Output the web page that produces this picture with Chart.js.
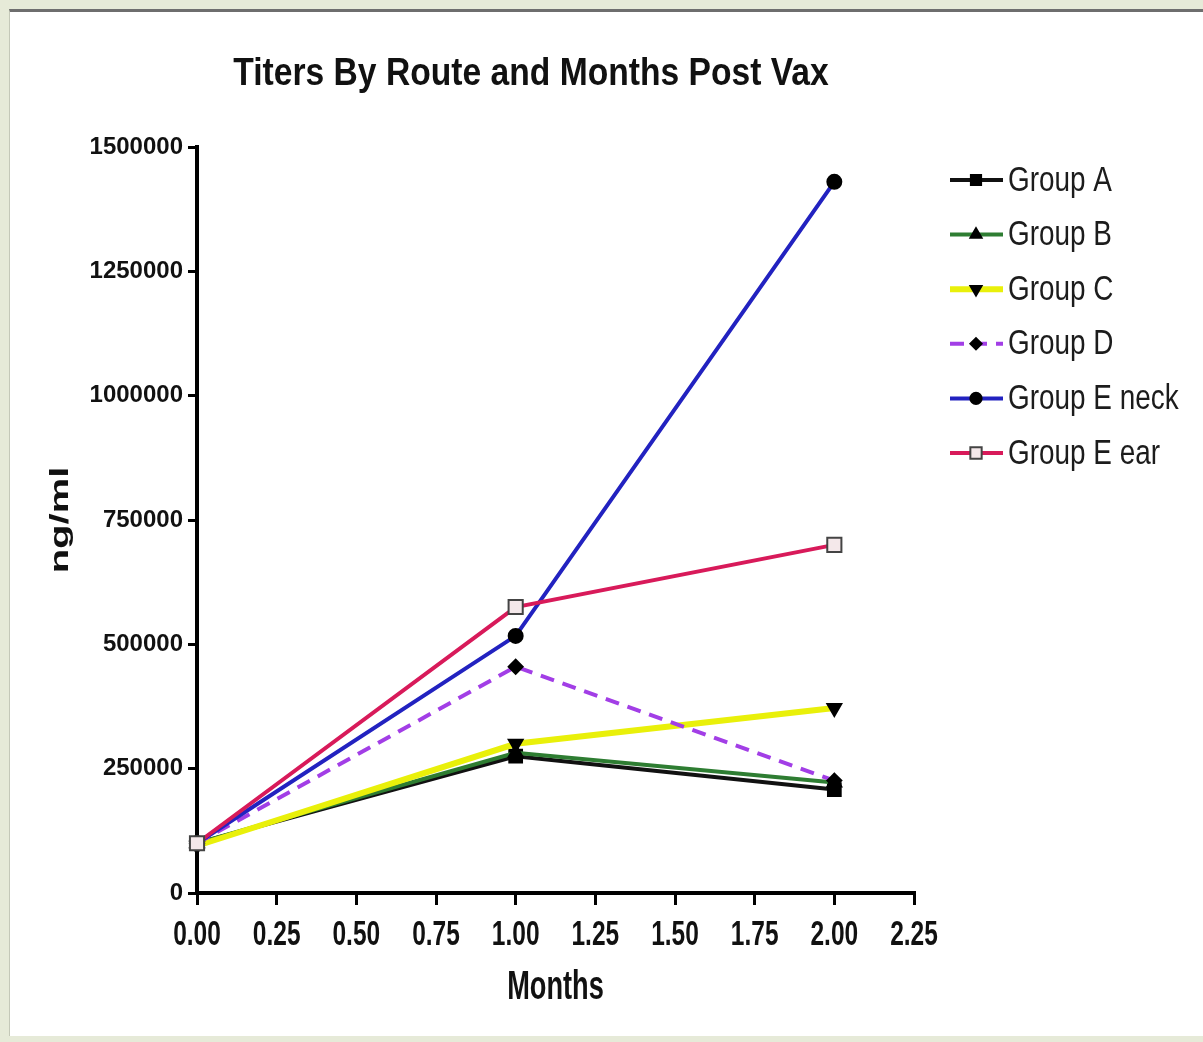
<!DOCTYPE html>
<html>
<head>
<meta charset="utf-8">
<script src="https://cdn.jsdelivr.net/npm/chart.js@4/dist/chart.umd.min.js"></script>
<style>
  html, body { margin: 0; padding: 0; }
  body { width: 1203px; height: 1042px; background: #e6ead8; position: relative; overflow: hidden; }
  #panel { position: absolute; left: 9px; top: 9px; right: 0; bottom: 6px; background: #fff;
           border-top: 3px solid #6e6e6e; border-left: 1px solid #c4c8b8; }
  #wrap { position: absolute; left: 0; top: 0; width: 1203px; height: 1042px; }
</style>
</head>
<body>
<div id="panel"></div>
<div id="wrap"><canvas id="chart"></canvas></div>
<script>
// values
const months = [0, 1, 2];
const groupA = [100000, 275000, 208000];
const groupB = [100000, 282000, 222000];
const groupC = [95000, 300000, 372000];
const groupD = [100000, 455000, 226000];
const groupENeck = [100000, 517000, 1430000];
const groupEEar = [100000, 575000, 700000];
const seriesNames = ['Group A', 'Group B', 'Group C', 'Group D', 'Group E neck', 'Group E ear'];
const yTicks = [0, 250000, 500000, 750000, 1000000, 1250000, 1500000];

const SANS = '"Liberation Sans", Arial, sans-serif';

function pts(values) {
  return values.map((v, i) => ({ x: months[i], y: v }));
}

const styles = [
  { color: '#111111', style: 'rect', rot: 0, fill: '#000', r: 9, w: 4 },
  { color: '#2e7d32', style: 'triangle', rot: 0, fill: '#000', r: 8, w: 4 },
  { color: '#e9f00a', style: 'triangle', rot: 180, fill: '#000', r: 8, w: 6 },
  { color: '#a23ee6', style: 'rectRot', rot: 0, fill: '#000', r: 7, w: 4, dash: [14, 9] },
  { color: '#2222c0', style: 'circle', rot: 0, fill: '#000', r: 7, w: 4 },
  { color: '#d81a5a', style: 'rect', rot: 0, fill: '#f4e8ea', r: 10, w: 4, pointBorder: '#444' }
];
const series = [groupA, groupB, groupC, groupD, groupENeck, groupEEar];

const datasets = series.map((vals, i) => {
  const s = styles[i];
  return {
    label: seriesNames[i],
    data: pts(vals),
    borderColor: s.color,
    borderWidth: s.w,
    borderDash: s.dash || [],
    pointStyle: s.style,
    pointRotation: s.rot,
    pointRadius: s.r,
    pointBackgroundColor: s.fill,
    pointBorderColor: s.pointBorder || '#000',
    pointBorderWidth: 2,
    tension: 0,
    fill: false,
    clip: false,
    order: series.length - 1 - i
  };
});

// condensed text the way the figure has it (no narrow font installed)
function squeezed(ctx, text, x, y, font, sx, sy, rot) {
  ctx.save();
  ctx.translate(x, y);
  if (rot) ctx.rotate(rot);
  ctx.scale(sx, sy);
  ctx.font = font;
  ctx.fillText(text, 0, 0);
  ctx.restore();
}

// title, axis texts and legend placed like the original figure
const extras = {
  id: 'extras',
  afterDraw(chart) {
    const ctx = chart.ctx;
    const xs = chart.scales.x;
    ctx.save();
    ctx.fillStyle = '#111';
    ctx.textAlign = 'center';
    ctx.textBaseline = 'middle';
    squeezed(ctx, 'Titers By Route and Months Post Vax', 531, 75, 'bold 38px ' + SANS, 0.885, 1);

    xs.ticks.forEach(t => {
      squeezed(ctx, Number(t.value).toFixed(2), xs.getPixelForValue(t.value), 935, 'bold 35px ' + SANS, 0.7, 1);
    });
    squeezed(ctx, 'Months', (xs.left + xs.right) / 2, 988, 'bold 40px ' + SANS, 0.68, 1);
    squeezed(ctx, 'ng/ml', 61, 520, 'bold 25px ' + SANS, 1.6, 1, -Math.PI / 2);

    ctx.textAlign = 'left';
    datasets.forEach((d, i) => {
      const y = 180 + i * 54.6;
      ctx.save();
      ctx.strokeStyle = d.borderColor;
      ctx.lineWidth = d.borderWidth;
      ctx.setLineDash(d.borderDash);
      ctx.beginPath();
      ctx.moveTo(950, y);
      ctx.lineTo(1003, y);
      ctx.stroke();
      ctx.restore();
      ctx.save();
      ctx.fillStyle = d.pointBackgroundColor;
      ctx.strokeStyle = d.pointBorderColor;
      ctx.lineWidth = 2;
      Chart.helpers.drawPoint(ctx, { pointStyle: d.pointStyle, rotation: d.pointRotation, radius: d.pointRadius * 0.8, borderWidth: 2 }, 976, y);
      ctx.restore();
      ctx.fillStyle = '#1c1c1c';
      squeezed(ctx, d.label, 1008, y + 1, '31px ' + SANS, 0.9, 1.12);
    });
    ctx.restore();
  }
};

new Chart(document.getElementById('chart'), {
  type: 'line',
  data: { datasets },
  options: {
    responsive: true,
    maintainAspectRatio: false,
    animation: false,
    layout: { padding: { top: 147, right: 289, left: 0, bottom: 0 } },
    plugins: {
      legend: { display: false },
      title: { display: false },
      tooltip: { enabled: false }
    },
    scales: {
      x: {
        type: 'linear',
        min: 0,
        max: 2.25,
        afterFit: s => { s.height = 149; },
        border: { color: '#000', width: 4 },
        grid: { drawOnChartArea: false, drawTicks: true, tickLength: 12, color: '#000', lineWidth: 3 },
        ticks: { stepSize: 0.25, display: false },
        title: { display: false, text: 'Months' }
      },
      y: {
        min: yTicks[0],
        max: yTicks[yTicks.length - 1],
        afterFit: s => { s.width = 197; },
        afterBuildTicks: s => { s.ticks = yTicks.map(v => ({ value: v })); },
        border: { color: '#000', width: 4 },
        grid: { drawOnChartArea: false, drawTicks: true, tickLength: 9, color: '#000', lineWidth: 3 },
        ticks: {
          color: '#111',
          padding: 5,
          font: { family: SANS, size: 24, weight: 'bold' },
          callback: v => String(v)
        },
        title: { display: false, text: 'ng/ml' }
      }
    }
  },
  plugins: [extras]
});
</script>
</body>
</html>
